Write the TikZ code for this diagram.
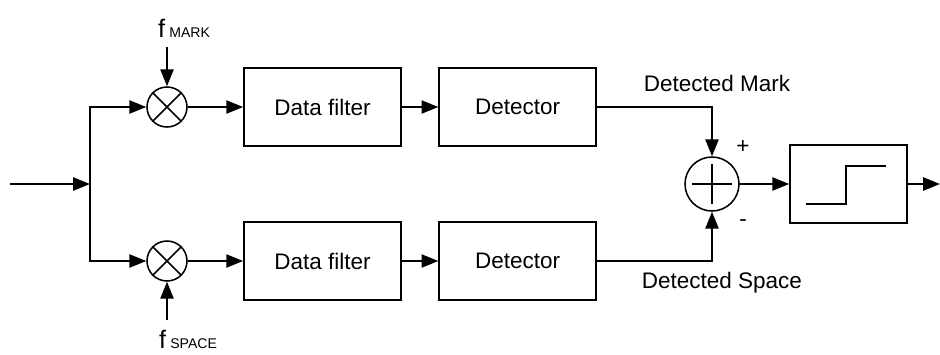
\documentclass[tikz,border=0pt]{standalone}
\usepackage{fontspec}
\setmainfont{Liberation Sans}
\usetikzlibrary{positioning, arrows.meta}

\begin{document}
\begin{tikzpicture}[line width=1.1pt, font=\fontsize{16}{19}\selectfont,
        block/.style={draw, rectangle, minimum width=3.925cm, minimum height=1.95cm},
        mixer/.style={draw, circle, minimum size=1cm, inner sep=0pt},
        adder/.style={draw, circle, minimum size=1.35cm, inner sep=0pt},
        sig/.style={-{Triangle[length=0.42cm, width=0.33cm]}}]
        \useasboundingbox (0,0) rectangle (23.5,-8.85);

        \coordinate (in) at (0.25,-4.6);
        \coordinate (split) at (2.25,-4.6);

        % mixers
        \node (mixM) [mixer] at (4.175,-2.675) {};
        \node (mixS) [mixer] at (4.175,-6.525) {};
        \draw (mixM.45) -- (mixM.225);
        \draw (mixM.135) -- (mixM.-45);
        \draw (mixS.45) -- (mixS.225);
        \draw (mixS.135) -- (mixS.-45);

        \node (fmark) [draw=none] at (4.6,-0.72) {\fontsize{18}{20}\selectfont f\,{\fontsize{10}{12}\selectfont MARK}};
        \node (fspace) [draw=none] at (4.7,-8.48) {\fontsize{18}{20}\selectfont f\,{\fontsize{10}{12}\selectfont SPACE}};
        \coordinate (fmarkA) at (4.175,-1.175);
        \coordinate (fspaceA) at (4.175,-8.0);

        % filters and detectors
        \node (dfM) [block] at (8.06,-2.675) {Data filter};
        \node (detM) [block] at (12.94,-2.675) {Detector};
        \node (dfS) [block] at (8.06,-6.525) {Data filter};
        \node (detS) [block] at (12.94,-6.525) {Detector};

        % adder and limiter
        \node (add) [adder] at (17.8,-4.6) {};
        \draw ([yshift=-0.2cm]add.north) -- ([yshift=0.2cm]add.south);
        \draw ([xshift=0.2cm]add.west) -- ([xshift=-0.2cm]add.east);
        \node (lim) [block, minimum width=2.925cm] at (21.2125,-4.6) {};
        \draw ([shift={(-1.0625,-0.5)}]lim.center) -- ++(1.0,0) -- ++(0,0.95) -- ++(1.0,0);
        \coordinate (out) at (23.5,-4.6);

        \node (lblM) at (17.925,-2.075) {Detected Mark};
        \node (lblS) at (18.05,-7.075) {Detected Space};
        \node (plus) at (18.575,-3.675) {+};
        \node (minus) at (18.575,-5.575) {-};

        % connectors
        \draw[sig] (in) -- (split);
        \draw[sig] (split) |- (mixM);
        \draw[sig] (split) |- (mixS);
        \draw[sig] (fmarkA) -- (mixM);
        \draw[sig] (fspaceA) -- (mixS);
        \draw[sig] (mixM) -- (dfM);
        \draw[sig] (mixS) -- (dfS);
        \draw[sig] (dfM) -- (detM);
        \draw[sig] (dfS) -- (detS);
        \draw[sig] (detM) -| (add);
        \draw[sig] (detS) -| (add);
        \draw[sig] (add) -- (lim);
        \draw[sig] (lim) -- (out);
\end{tikzpicture}
\end{document}
